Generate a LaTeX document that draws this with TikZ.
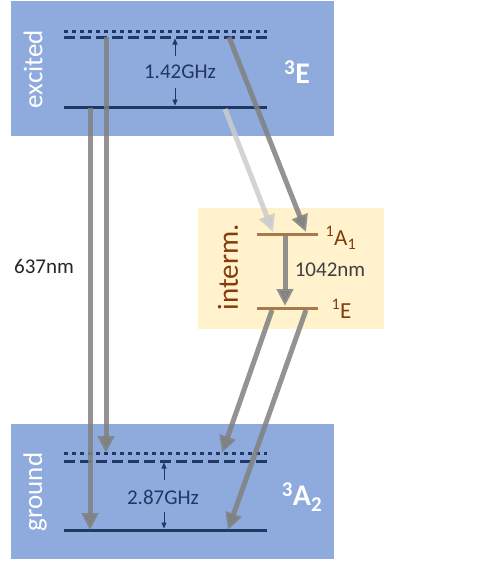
\documentclass[tikz,border=0pt]{standalone}
\usepackage{fontspec}
\setmainfont{Carlito}
\usetikzlibrary{arrows.meta}
\definecolor{boxblue}{HTML}{8FAADC}
\definecolor{boxyellow}{HTML}{FFF2CC}
\definecolor{navy}{HTML}{203864}
\definecolor{brownlvl}{HTML}{A47A4E}
\definecolor{browntxt}{HTML}{843C0C}
\tikzset{
  levelline/.style={line width=3pt, navy},
  dotline/.style={line width=3pt, navy, dash pattern=on 4pt off 4pt},
  dashline/.style={line width=3pt, navy, dash pattern=on 11pt off 5pt},
  interline/.style={line width=3pt, brownlvl},
  bigarrow/.style={line width=5pt, black!50, opacity=0.85, -{Triangle[width=16pt,length=17pt]}},
  lightarrow/.style={line width=5pt, black!20, opacity=0.85, -{Triangle[width=16pt,length=17pt]}},
  smallarrow/.style={line width=0.6pt, navy, -{Triangle[width=5pt,length=6pt]}},
  whitelab/.style={text=white, font=\fontsize{27}{30}\selectfont},
  statelab/.style={text=white, font=\fontsize{30}{34}\selectfont\bfseries},
  freqlab/.style={text=navy, font=\fontsize{21}{24}\selectfont},
}
\begin{document}
\begin{tikzpicture}[x=1pt,y=-1pt]
\useasboundingbox (0,0) rectangle (501,563);
% boxes
\fill[boxblue] (11,1) rectangle (334,136);
\fill[boxblue] (11,424) rectangle (334,559);
\fill[boxyellow] (198,208) rectangle (384,329);
% excited levels
\draw[dotline] (64,31) -- (267,31);
\draw[dashline] (64,37) -- (267,37);
\draw[levelline] (64,107) -- (267,107);
% ground levels
\draw[dotline] (64,453) -- (267,453);
\draw[dashline] (64,461) -- (267,461);
\draw[levelline] (64,530) -- (267,530);
% intermediate levels
\draw[interline] (257,234) -- (318,234);
\draw[interline] (257,308) -- (318,308);
% labels
\node[whitelab, rotate=90] (exc) at (33,69) {excited};
\node[whitelab, rotate=90] (gnd) at (35,492) {ground};
\node[statelab] (E3) at (297,72) {\textsuperscript{3}E};
\node[statelab] (A32) at (302,497) {\textsuperscript{3}A\textsubscript{2}};
\node[freqlab] (f1) at (180,72) {1.42GHz};
\node[freqlab] (f2) at (163,497) {2.87GHz};
\node[text=browntxt, rotate=90, font=\fontsize{29}{32}\selectfont] (int) at (228,267) {interm.};
\node[text=browntxt, font=\fontsize{23}{26}\selectfont, anchor=west] (A11) at (322,238) {\textsuperscript{1}A\textsubscript{1}};
\node[text=browntxt, font=\fontsize{23}{26}\selectfont, anchor=west] (E1) at (328,309) {\textsuperscript{1}E};
\node[text=black!75, font=\fontsize{21}{24}\selectfont] (nm1042) at (330,270) {1042nm};
\node[text=black!85, font=\fontsize{21}{24}\selectfont] (nm637) at (44,266) {637nm};
% small arrows
\draw[smallarrow] (175,56) -- (175,38.5);
\draw[smallarrow] (175,88) -- (175,105.5);
\draw[smallarrow] (164,480) -- (164,462.5);
\draw[smallarrow] (164,512) -- (164,528.5);
% coordinates for transitions
\coordinate (a1) at (90,108);
\coordinate (a1e) at (90,530);
\coordinate (a2) at (106,37);
\coordinate (a2e) at (106,453);
\coordinate (b1) at (229,37);
\coordinate (b1e) at (306,232);
\coordinate (b2) at (225,109);
\coordinate (b2e) at (273,232);
\coordinate (c0) at (285,236);
\coordinate (c0e) at (285,306);
\coordinate (d1) at (272,310);
\coordinate (d1e) at (222,453);
\coordinate (d2) at (306,310);
\coordinate (d2e) at (228,530);
% transitions
\draw[lightarrow] (b2) -- (b2e);
\draw[bigarrow] (a1) -- (a1e);
\draw[bigarrow] (a2) -- (a2e);
\draw[bigarrow] (b1) -- (b1e);
\draw[bigarrow] (c0) -- (c0e);
\draw[bigarrow] (d1) -- (d1e);
\draw[bigarrow] (d2) -- (d2e);
\end{tikzpicture}
\end{document}
